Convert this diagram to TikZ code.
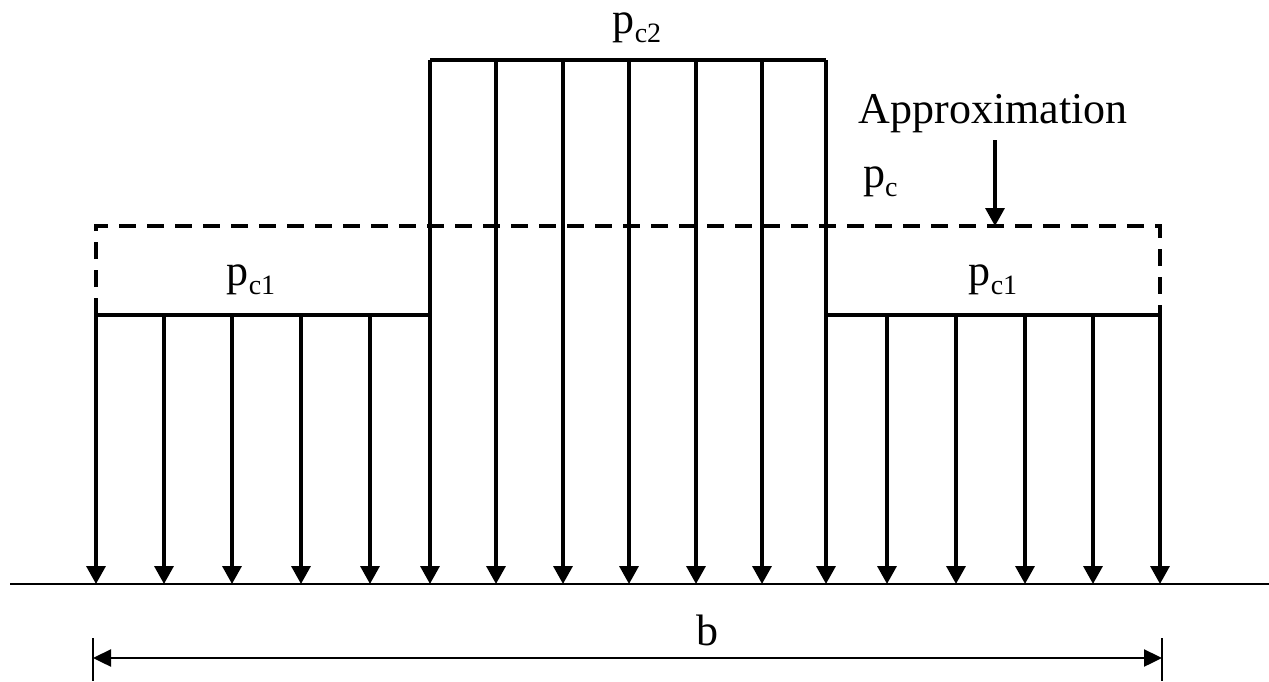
\documentclass[tikz,border=0pt]{standalone}
\usepackage{fontspec}
\setmainfont{Liberation Serif}
\usetikzlibrary{arrows.meta}
\newcommand{\lblsub}[2]{#1\raisebox{-9pt}{\fontsize{28}{28}\selectfont #2}}
\tikzset{
  load/.style={line width=3.4pt,-{Triangle[length=18pt,width=19pt]}},
  topline/.style={line width=3.4pt},
  approx/.style={line width=3.2pt,dash pattern=on 17pt off 11pt},
  ground/.style={line width=2.4pt},
  dimline/.style={line width=2.4pt,{Triangle[length=18pt,width=17pt]}-{Triangle[length=18pt,width=17pt]}},
  lbl/.style={inner sep=0pt,font=\fontsize{44}{44}\selectfont,anchor=base},
}
\begin{document}
\begin{tikzpicture}[x=1pt,y=-1pt]
\useasboundingbox (0,0) rectangle (1269,681);
% ground
\coordinate (gl) at (10,584);
\coordinate (gr) at (1269,584);
\draw[ground] (gl) -- (gr);
% approximation dashed rectangle
\coordinate (a1) at (96,315);
\coordinate (a2) at (96,226);
\coordinate (a3) at (1160,226);
\coordinate (a4) at (1160,315);
\draw[approx] (a1) -- (a2) -- (a3) -- (a4);
% left block
\coordinate (l1) at (96,315);
\coordinate (l2) at (430,315);
\draw[topline] (l1) -- (l2);
\foreach \x [count=\i] in {96,164,232,301,370}{
  \coordinate (lt\i) at (\x,315);
  \coordinate (lg\i) at (\x,584);
  \draw[load] (lt\i) -- (lg\i);
}
% middle block
\coordinate (m1) at (430,60);
\coordinate (m2) at (826,60);
\draw[topline] (m1) -- (m2);
\foreach \x [count=\i] in {430,496,563,629,696,762,826}{
  \coordinate (mt\i) at (\x,60);
  \coordinate (mg\i) at (\x,584);
  \draw[load] (mt\i) -- (mg\i);
}
% right block
\coordinate (r1) at (826,315);
\coordinate (r2) at (1160,315);
\draw[topline] (r1) -- (r2);
\foreach \x [count=\i] in {887,956,1025,1093,1160}{
  \coordinate (rt\i) at (\x,315);
  \coordinate (rg\i) at (\x,584);
  \draw[load] (rt\i) -- (rg\i);
}
% labels
\node[lbl] (pc2) at (637,33) {\lblsub{p}{c2}};
\node[lbl] (pc1l) at (251,285) {\lblsub{p}{c1}};
\node[lbl] (pc1r) at (993,285) {\lblsub{p}{c1}};
\node[lbl,anchor=base west] (pc) at (863,187) {\lblsub{p}{c}};
\node[lbl] (apx) at (993,123) {Approximation};
\coordinate (apxs) at (995,140);
\coordinate (apxe) at (995,226);
\draw[load] (apxs) -- (apxe);
% dimension
\coordinate (d1) at (93,638);
\coordinate (d1b) at (93,681);
\coordinate (d2) at (1162,638);
\coordinate (d2b) at (1162,681);
\draw[ground] (d1) -- (d1b);
\draw[ground] (d2) -- (d2b);
\coordinate (da) at (93,658);
\coordinate (db) at (1162,658);
\draw[dimline] (da) -- (db);
\node[lbl] (b) at (707,645) {b};
\end{tikzpicture}
\end{document}
